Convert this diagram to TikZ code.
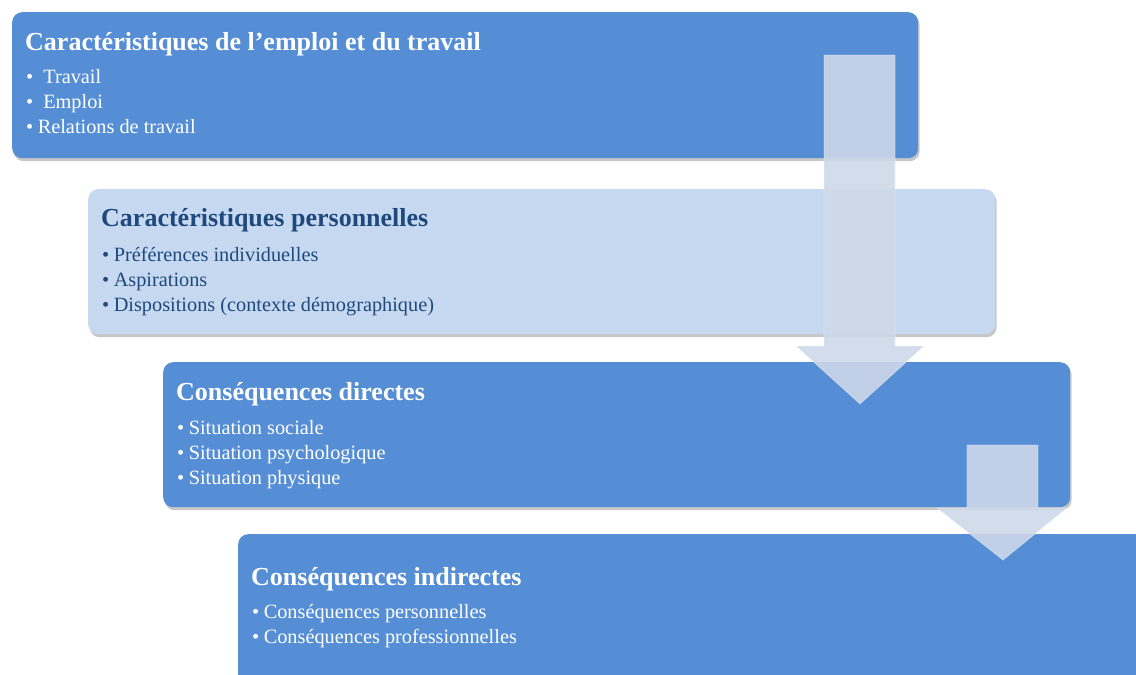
\documentclass[tikz,border=0pt]{standalone}
\usepackage{fontspec}
\setmainfont{Liberation Serif}
\usetikzlibrary{shadows}
\definecolor{boxdark}{RGB}{85,142,213}
\definecolor{boxlight}{RGB}{198,217,241}
\definecolor{arrowfill}{RGB}{206,216,233}
\definecolor{navy}{RGB}{31,73,125}
\tikzset{
  panel/.style={rounded corners=10pt, anchor=north west, inner sep=0pt,
    drop shadow={shadow xshift=1.5pt, shadow yshift=-3pt, opacity=0.22, fill=black}},
  title/.style={anchor=base west, inner sep=0pt, font=\fontsize{26}{30}\selectfont\bfseries},
  item/.style={anchor=base west, inner sep=0pt, font=\fontsize{20.3}{24}\selectfont},
  flowarrow/.style={fill=arrowfill, fill opacity=0.9, draw=white, draw opacity=0.35, line width=0.8pt}
}
\begin{document}
\begin{tikzpicture}[x=1pt,y=-1pt]
\useasboundingbox (0,0) rectangle (1136,675);
\clip (0,0) rectangle (1136,675);
% panels
\node[panel, fill=boxdark, minimum width=906pt, minimum height=146pt] (b1) at (12,12) {};
\node[panel, fill=boxlight, minimum width=907pt, minimum height=145pt] (b2) at (88,189) {};
\node[panel, fill=boxdark, minimum width=907pt, minimum height=145pt] (b3) at (163,362) {};
\node[panel, fill=boxdark, minimum width=930pt, minimum height=160pt] (b4) at (238,534) {};
% texts panel 1
\node[title, text=white] (t1) at (25,50) {Caractéristiques de l’emploi et du travail};
\node[item, text=white] (t1a) at (26,83) {•\hspace{10pt}Travail};
\node[item, text=white] (t1b) at (26,108) {•\hspace{10pt}Emploi};
\node[item, text=white] (t1c) at (26,133) {•\hspace{4.5pt}Relations de travail};
% panel 2
\node[title, text=navy] (t2) at (101,226) {Caractéristiques personnelles};
\node[item, text=navy] (t2a) at (102,261) {•\hspace{4.5pt}Préférences individuelles};
\node[item, text=navy] (t2b) at (102,286) {•\hspace{4.5pt}Aspirations};
\node[item, text=navy] (t2c) at (102,311) {•\hspace{4.5pt}Dispositions (contexte démographique)};
% panel 3
\node[title, text=white] (t3) at (176,400) {Conséquences directes};
\node[item, text=white] (t3a) at (177,434) {•\hspace{4.5pt}Situation sociale};
\node[item, text=white] (t3b) at (177,459) {•\hspace{4.5pt}Situation psychologique};
\node[item, text=white] (t3c) at (177,484) {•\hspace{4.5pt}Situation physique};
% panel 4
\node[title, text=white] (t4) at (251,585) {Conséquences indirectes};
\node[item, text=white] (t4a) at (252,618) {•\hspace{4.5pt}Conséquences personnelles};
\node[item, text=white] (t4b) at (252,643) {•\hspace{4.5pt}Conséquences professionnelles};
% arrows
\path[flowarrow] (824,55) -- (895,55) -- (895,346) -- (924,346) -- (860,404) -- (796,346) -- (824,346) -- cycle;
\path[flowarrow] (967,445) -- (1038,445) -- (1038,508) -- (1067,508) -- (1003,560) -- (937,508) -- (967,508) -- cycle;
\end{tikzpicture}
\end{document}
